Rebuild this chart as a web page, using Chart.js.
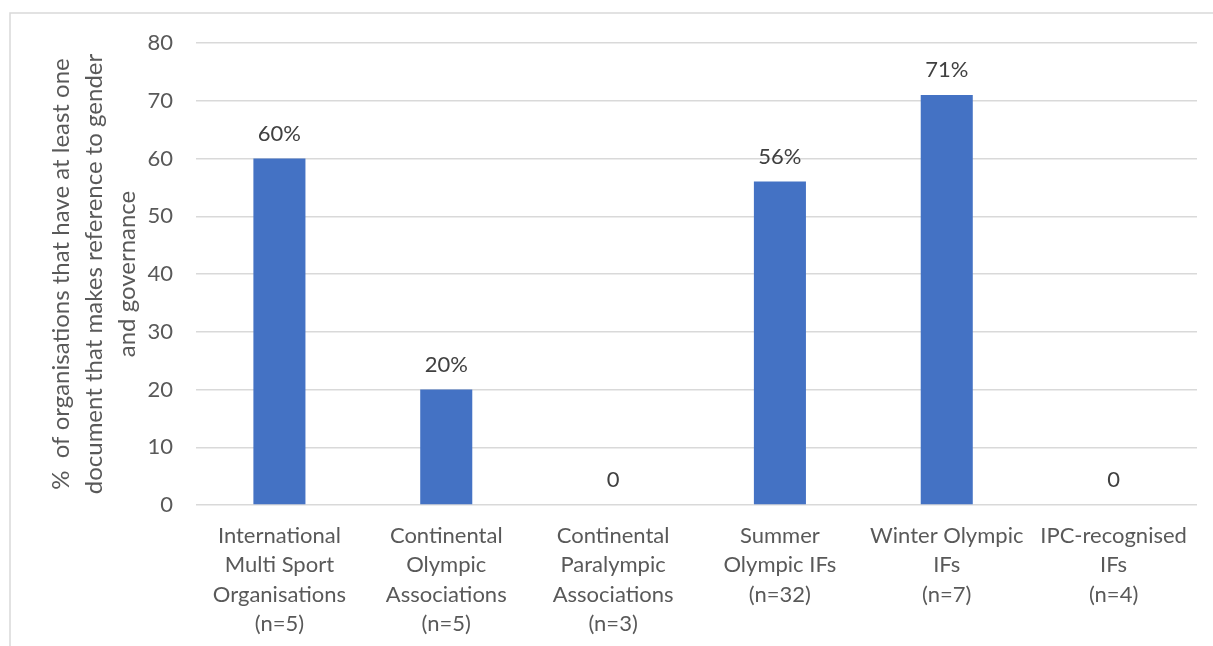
<!DOCTYPE html>
<html>
<head>
<meta charset="utf-8">
<script src="https://cdn.jsdelivr.net/npm/chart.js@4.4.1/dist/chart.umd.min.js"></script>
<style>
  html, body { margin: 0; padding: 0; background: #fff; }
  #chart { display: block; }
</style>
</head>
<body>
<canvas id="chart" width="1213" height="646"></canvas>
<script>
// Chart data
const categories = [
  ['International', 'Multi Sport', 'Organisations', '(n=5)'],
  ['Continental', 'Olympic', 'Associations', '(n=5)'],
  ['Continental', 'Paralympic', 'Associations', '(n=3)'],
  ['Summer', 'Olympic IFs', '(n=32)'],
  ['Winter Olympic', 'IFs', '(n=7)'],
  ['IPC-recognised', 'IFs', '(n=4)']
];
const shares = [60, 20, 0, 56, 71, 0];
const shareLabels = ['60%', '20%', '0', '56%', '71%', '0'];
const yMin = 0;
const yMax = 80;
const yStep = 10;
const yTitle = [
  '%  of organisations that have at least one',
  'document that makes reference to gender',
  'and governance'
];

const FONT = 'Lato, "Open Sans", sans-serif';
const BAR_BLUE = '#4472C4';
const GRID_GREY = '#d9d9d9';
const TEXT_GREY = '#595959';

// Light frame round the chart, like the exported Excel chart
const framePlugin = {
  id: 'frame',
  beforeDraw(chart) {
    const ctx = chart.ctx;
    ctx.save();
    ctx.strokeStyle = GRID_GREY;
    ctx.lineWidth = 1.5;
    ctx.strokeRect(10, 13, chart.width + 20, chart.height + 20);
    ctx.restore();
  }
};

// Value labels above each bar
const valueLabelPlugin = {
  id: 'valueLabels',
  afterDatasetsDraw(chart) {
    const ctx = chart.ctx;
    const meta = chart.getDatasetMeta(0);
    ctx.save();
    ctx.font = `22px ${FONT}`;
    ctx.fillStyle = '#404040';
    ctx.textAlign = 'center';
    ctx.textBaseline = 'middle';
    meta.data.forEach((bar, i) => {
      ctx.fillText(shareLabels[i], bar.x, bar.y - 25);
    });
    ctx.restore();
  }
};

const ctx = document.getElementById('chart').getContext('2d');
new Chart(ctx, {
  type: 'bar',
  data: {
    labels: categories,
    datasets: [{
      data: shares,
      backgroundColor: BAR_BLUE,
      borderWidth: 0,
      barPercentage: 0.312,
      categoryPercentage: 1.0
    }]
  },
  options: {
    responsive: false,
    animation: false,
    layout: { padding: { left: 10, right: 16, top: 43, bottom: 0 } },
    plugins: {
      legend: { display: false },
      tooltip: { enabled: false }
    },
    scales: {
      x: {
        grid: { display: false, drawTicks: false },
        border: { display: false },
        ticks: {
          color: TEXT_GREY,
          font: { family: FONT, size: 22, lineHeight: '29.5px' },
          padding: 16,
          autoSkip: false,
          maxRotation: 0
        },
        afterFit(scale) { scale.height = 141; }
      },
      y: {
        min: yMin,
        max: yMax,
        grid: { color: GRID_GREY, lineWidth: 1.5, drawTicks: false },
        border: { display: false },
        ticks: {
          stepSize: yStep,
          color: TEXT_GREY,
          font: { family: FONT, size: 22 },
          padding: 23
        },
        title: {
          display: true,
          text: yTitle,
          color: TEXT_GREY,
          font: { family: FONT, size: 24, lineHeight: '33px' },
          padding: { top: 35, bottom: 0 }
        },
        afterFit(scale) { scale.width = 186; }
      }
    }
  },
  plugins: [framePlugin, valueLabelPlugin]
});
</script>
</body>
</html>
